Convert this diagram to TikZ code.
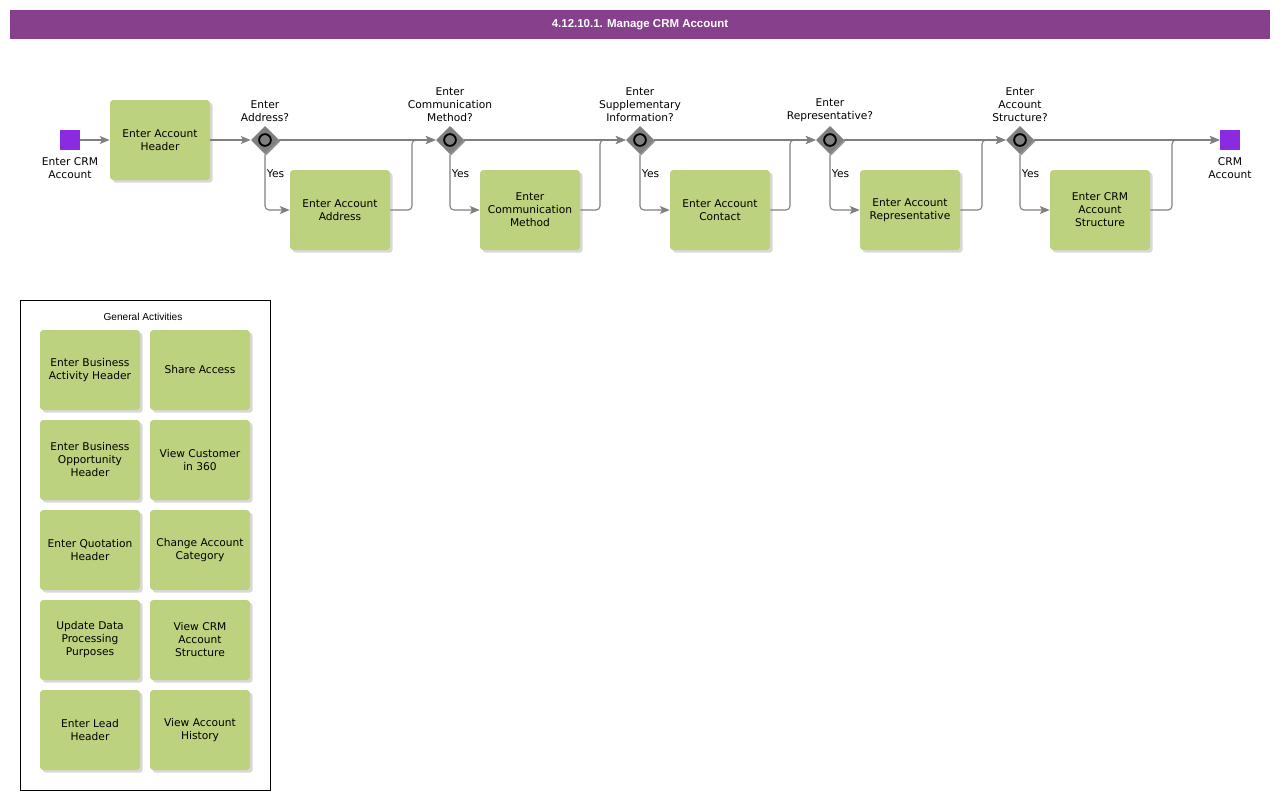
\documentclass[tikz,border=0pt]{standalone}
\usepackage{fontspec}
\setmainfont{DejaVu Sans}
\newfontfamily\arialfont{Liberation Sans}
\usepackage{tikz}
\usetikzlibrary{shapes.geometric, arrows.meta, positioning, calc, shadows}
\definecolor{crmPurple}{RGB}{135, 64, 139}
\definecolor{eventViolet}{RGB}{138, 43, 226}
\definecolor{taskGreen}{RGB}{189, 210, 126}
\definecolor{flowGray}{RGB}{128, 128, 128}
\tikzset{
  titlebar/.style={
    rectangle, fill=crmPurple, text=white,
    minimum width=945pt, minimum height=21.75pt,
    font=\arialfont\bfseries\fontsize{8.6}{10}\selectfont
  },
  taskbox/.style={
    rectangle, rounded corners=2.5pt,
    fill=taskGreen,
    minimum width=75pt, minimum height=60pt,
    align=center,
    font=\fontsize{8}{9.75}\selectfont,
    drop shadow={shadow xshift=2pt, shadow yshift=-2pt, fill=gray!60, opacity=0.5}
  },
  eventbox/.style={
    rectangle, fill=eventViolet,
    minimum size=15pt, inner sep=0pt
  },
  gateway/.style={
    diamond, fill=flowGray,
    minimum width=21pt, minimum height=21pt, inner sep=0pt,
    drop shadow={shadow xshift=1pt, shadow yshift=-1pt, fill=black!70, opacity=0.6},
    path picture={
      \draw[line width=1.4pt, fill=flowGray] (path picture bounding box.center) circle (4.4pt);
    }
  },
  smalltext/.style={
    align=center, inner sep=0pt,
    font=\fontsize{8}{9.75}\selectfont
  },
  yeslabel/.style={
    right, inner sep=1pt, text=black,
    font=\fontsize{8}{9.75}\selectfont
  },
  flowline/.style={
    -{Stealth[length=7.5pt, width=6pt, inset=1.8pt]},
    line width=0.85pt, color=flowGray, rounded corners=3pt
  },
  groupbox/.style={
    rectangle, draw=black, line width=0.75pt,
    minimum width=187.5pt, minimum height=367.5pt
  }
}

\begin{document}
\begin{tikzpicture}[x=0.75pt, y=-0.75pt]
  \useasboundingbox (0,0) rectangle (1280,800);

  \node[titlebar] (title) at (640,24.5) {\raisebox{-0.8pt}{4.12.10.1. Manage CRM Account}};

  % main flow
  \node[eventbox] (start) at (70,140) {};
  \node[smalltext, below=5pt of start] (startlbl) {Enter CRM\\Account};
  \node[taskbox] (t1) at (160,140) {Enter Account\\Header};

  \node[gateway] (g1) at (265,140) {};
  \node[gateway] (g2) at (450,140) {};
  \node[gateway] (g3) at (640,140) {};
  \node[gateway] (g4) at (830,140) {};
  \node[gateway] (g5) at (1020,140) {};

  \node[smalltext, above=3pt of g1] {Enter\\Address?};
  \node[smalltext, above=3pt of g2] {Enter\\Communication\\Method?};
  \node[smalltext, above=3pt of g3] {Enter\\Supplementary\\Information?};
  \node[smalltext, above=3pt of g4] {Enter\\Representative?};
  \node[smalltext, above=3pt of g5] {Enter\\Account\\Structure?};

  \node[taskbox] (t2) at (340,210) {Enter Account\\Address};
  \node[taskbox] (t3) at (530,210) {Enter\\Communication\\Method};
  \node[taskbox] (t4) at (720,210) {Enter Account\\Contact};
  \node[taskbox] (t5) at (910,210) {Enter Account\\Representative};
  \node[taskbox] (t6) at (1100,210) {Enter CRM\\Account\\Structure};

  \node[eventbox] (end) at (1230,140) {};
  \node[smalltext, below=5pt of end] (endlbl) {CRM\\Account};

  \coordinate (m1) at (412,140);
  \coordinate (m2) at (600,140);
  \coordinate (m3) at (790,140);
  \coordinate (m4) at (982,140);
  \coordinate (m5) at (1172,140);

  \draw[flowline] (start) -- (t1);
  \draw[flowline] (t1) -- (g1);
  \draw[flowline] (g1) -- (g2);
  \draw[flowline] (g2) -- (g3);
  \draw[flowline] (g3) -- (g4);
  \draw[flowline] (g4) -- (g5);
  \draw[flowline] (g5) -- (end);

  \draw[flowline] (g1.south) |- node[yeslabel, pos=0.17] {Yes} (t2.west);
  \draw[flowline] (g2.south) |- node[yeslabel, pos=0.17] {Yes} (t3.west);
  \draw[flowline] (g3.south) |- node[yeslabel, pos=0.17] {Yes} (t4.west);
  \draw[flowline] (g4.south) |- node[yeslabel, pos=0.17] {Yes} (t5.west);
  \draw[flowline] (g5.south) |- node[yeslabel, pos=0.17] {Yes} (t6.west);

  \draw[flowline] (t2.east) -| (m1) -- (g2.west);
  \draw[flowline] (t3.east) -| (m2) -- (g3.west);
  \draw[flowline] (t4.east) -| (m3) -- (g4.west);
  \draw[flowline] (t5.east) -| (m4) -- (g5.west);
  \draw[flowline] (t6.east) -| (m5) -- (end.west);

  % general activities
  \node[groupbox] (ga) at (145,545) {};
  \node[font=\arialfont\fontsize{7.6}{9}\selectfont] (gatitle) at (143,317) {General Activities};

  \node[taskbox] (a1) at (90,370) {Enter Business\\Activity Header};
  \node[taskbox] (a2) at (200,370) {Share Access};
  \node[taskbox] (a3) at (90,460) {Enter Business\\Opportunity\\Header};
  \node[taskbox] (a4) at (200,460) {View Customer\\in 360};
  \node[taskbox] (a5) at (90,550) {Enter Quotation\\Header};
  \node[taskbox] (a6) at (200,550) {Change Account\\Category};
  \node[taskbox] (a7) at (90,640) {Update Data\\Processing\\Purposes};
  \node[taskbox] (a8) at (200,640) {View CRM\\Account\\Structure};
  \node[taskbox] (a9) at (90,730) {Enter Lead\\Header};
  \node[taskbox] (a10) at (200,730) {View Account\\History};
\end{tikzpicture}
\end{document}
